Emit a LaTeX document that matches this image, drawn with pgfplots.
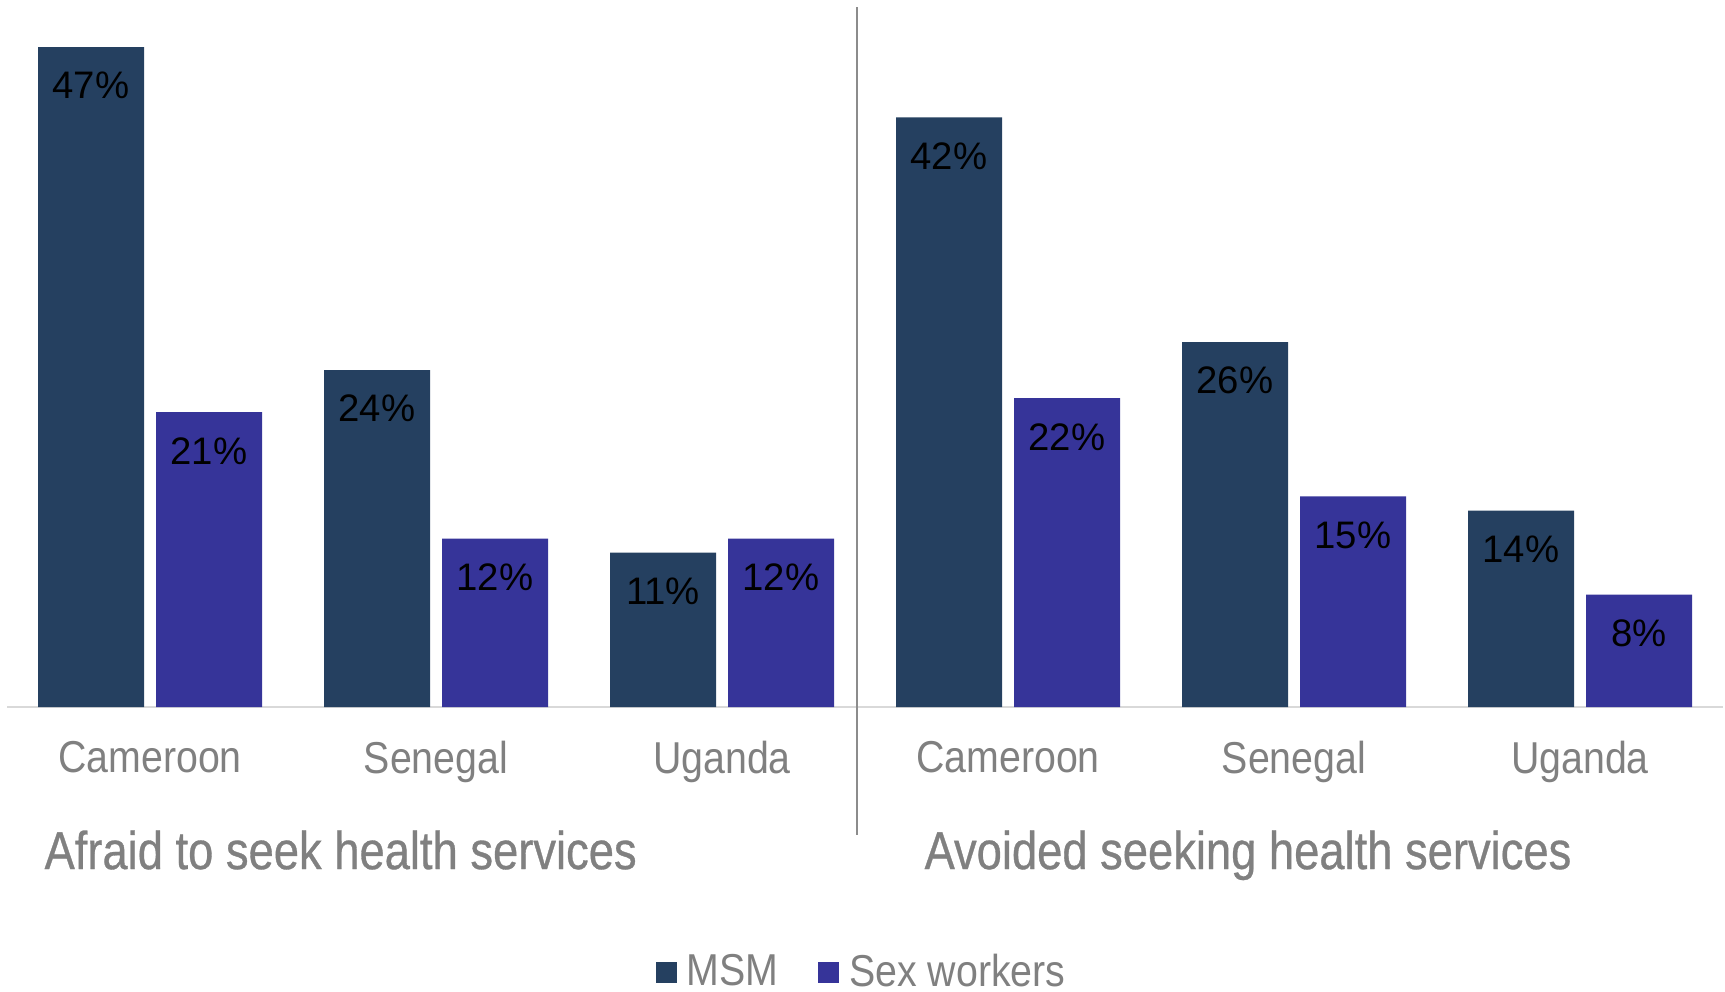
\documentclass[border=0pt]{standalone}
\usepackage{fontspec}
\setmainfont{Liberation Sans}
\newfontfamily\condfont[FakeStretch=0.88]{Liberation Sans}
\newfontfamily\titlefont[FakeStretch=0.85, FakeBold=0.6]{Liberation Sans}
\usepackage{pgfplots}
\pgfplotsset{compat=1.18}
\definecolor{msm}{RGB}{37,64,96}
\definecolor{sw}{RGB}{54,52,153}
\definecolor{labgray}{RGB}{128,128,128}
\definecolor{axgray}{RGB}{217,217,217}
\definecolor{divgray}{RGB}{140,140,140}

\begin{document}
\begin{tikzpicture}
\begin{axis}[
  scale only axis, width=514.8pt, height=210.6pt,
  xmin=-0.5, xmax=5.5, ymin=0, ymax=50,
  ybar, bar width=31.8pt, ybar=3.6pt,
  axis y line=none, axis x line=bottom,
  x axis line style={draw=axgray, line width=0.6pt, -},
  xtick={0,...,5},
  xticklabels={Cameroon,Senegal,Uganda,Cameroon,Senegal,Uganda},
  major tick length=0pt,
  xticklabel style={font=\condfont\fontsize{13.4}{16}\selectfont, text=labgray, yshift=-6.6pt},
  /pgf/number format/assume math mode=true,
  nodes near coords={\pgfmathprintnumber{\pgfplotspointmeta}\%},
  nodes near coords style={font=\fontsize{11.5}{14}\selectfont, text=black, anchor=north, yshift=-4pt},
  clip=false,
  legend style={draw=none, at={(axis cs:2.49,-18.9)}, anchor=center,
    legend columns=-1, font=\condfont\fontsize{13.4}{16}\selectfont, text=labgray,
    nodes={inner sep=1pt},
    /tikz/every odd column/.style={column sep=2pt},
    /tikz/every even column/.style={column sep=11pt}},
]
\addplot[fill=msm, draw=none,
  legend image code/.code={\fill[msm] (0pt,-3.15pt) rectangle (6.3pt,3.15pt);}]
  coordinates {(0,47) (1,24) (2,11) (3,42) (4,26) (5,14)};
\addplot[fill=sw, draw=none,
  legend image code/.code={\fill[sw] (0pt,-3.15pt) rectangle (6.3pt,3.15pt);}]
  coordinates {(0,21) (1,12) (2,12) (3,22) (4,15) (5,8)};
\legend{MSM,Sex workers}
\draw[divgray, line width=0.6pt] (axis cs:2.472,49.86) -- (axis cs:2.472,-9.1);
\node[anchor=base west, inner sep=0pt, text=labgray, font=\titlefont\fontsize{16}{19}\selectfont]
  at (axis cs:-0.371,-11.54) {Afraid to seek health services};
\node[anchor=base west, inner sep=0pt, text=labgray, font=\titlefont\fontsize{16}{19}\selectfont]
  at (axis cs:2.706,-11.54) {Avoided seeking health services};
\coordinate (BL) at (axis cs:-0.5245,-20.23);
\coordinate (TR) at (axis cs:5.507,50.36);
\end{axis}
\pgfresetboundingbox
\path[use as bounding box] (BL) rectangle (TR);
\end{tikzpicture}
\end{document}
